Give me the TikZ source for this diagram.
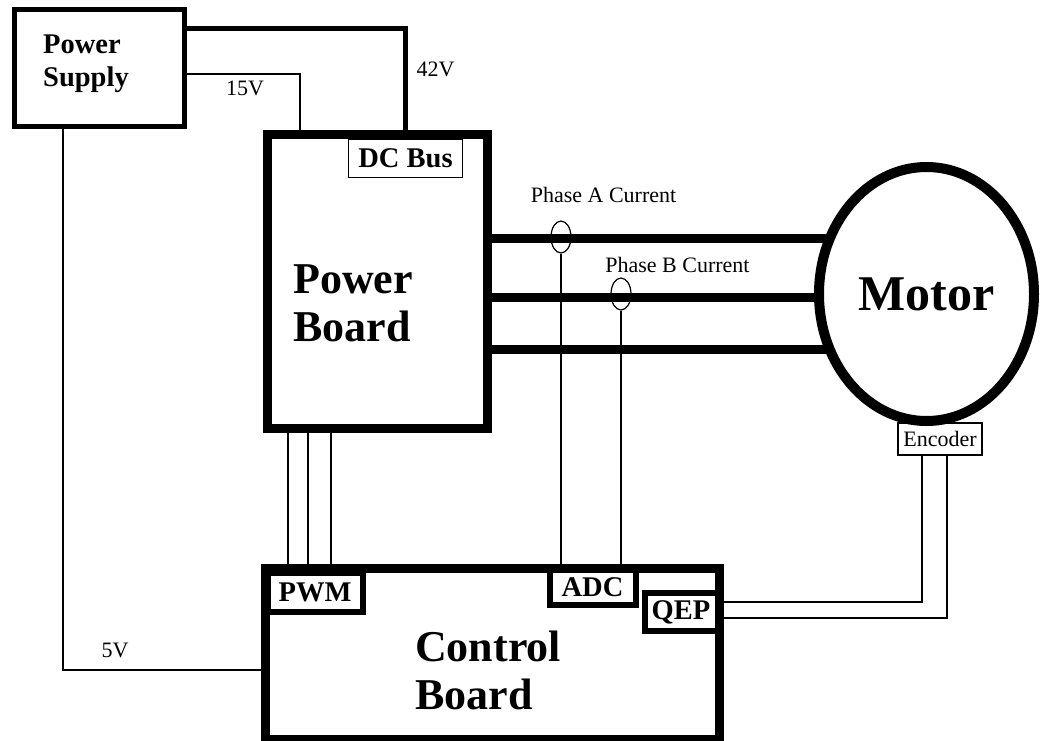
\documentclass[tikz,border=0pt]{standalone}
\usepackage{fontspec}
\setmainfont{Liberation Serif}
\usetikzlibrary{positioning,shapes.geometric,backgrounds}

\begin{document}
\begin{tikzpicture}[x=1pt,y=-1pt,every node/.style={font=\fontsize{22}{26}\selectfont},
  wire/.style={line width=1.2pt},
  port/.style={draw,line width=6pt,inner sep=0pt,font=\bfseries\fontsize{28.5}{33}\selectfont},
  big/.style={font=\bfseries\fontsize{44}{48}\selectfont,align=left,anchor=west,inner sep=0pt}]
\path[use as bounding box] (0,0) rectangle (1045,740);
% boxes
\node[draw,line width=5pt,minimum width=170pt,minimum height=117pt] (ps) at (99.5,68) {};
\node[draw,line width=9pt,minimum width=220pt,minimum height=294pt] (pb) at (377,281) {};
\node[draw,line width=9pt,minimum width=454pt,minimum height=171pt] (cb) at (492.5,653.5) {};
\node[draw,ellipse,line width=10pt,minimum width=215pt,minimum height=254pt,inner sep=0pt,fill=white,
  font=\bfseries\fontsize{50}{56}\selectfont] (m) at (926.5,294) {Motor};
\node[port,line width=1.2pt,minimum width=114pt,minimum height=38pt] (dc) at (405.5,158.5) {DC Bus};
\node[port,minimum width=95pt,minimum height=39pt] (pwm) at (315,592) {PWM};
\node[port,minimum width=86pt,minimum height=36pt] (adc) at (592.5,587) {ADC};
\node[port,minimum width=73pt,minimum height=38pt] (qep) at (681,612) {QEP};
\node[draw,line width=1.2pt,minimum width=84pt,minimum height=32pt,inner sep=0pt] (enc) at (940,439) {Encoder};
\node[big,font=\bfseries\fontsize{28.5}{33}\selectfont] (pst) at (43,64) {Power\\Supply};
\node[big] (pbt) at (293,303) {Power\\Board};
\node[big] (cbt) at (415,670.5) {Control\\Board};
% supply wires
\draw[line width=5pt] ([yshift=-21pt]ps.north east) -| (dc.north);
\draw[wire] ([yshift=-67pt]ps.north east) -| ([xshift=-77pt]pb.north);
\draw[wire] ([xshift=-36.5pt]ps.south) |- ([yshift=-16.5pt]cb.west);
\node (v42) at (435.5,69) {42V};
\node (v15) at (245,88) {15V};
\node (v5) at (115,650) {5V};
% phases to motor
\begin{scope}[on background layer]
\fill[white] (0,0) rectangle (1045,740);
\foreach \dy in {43,-16,-68}
  \draw[line width=9pt] ([yshift=\dy pt]pb.east) -- ([yshift=\dy pt]pb.east -| m.center);
\end{scope}
\node[draw,ellipse,line width=1.2pt,minimum width=20pt,minimum height=32pt,inner sep=0pt] (ia) at (561,237) {};
\node[draw,ellipse,line width=1.2pt,minimum width=20pt,minimum height=32pt,inner sep=0pt] (ib) at (621,294) {};
\node (lia) at (603.5,195) {Phase A Current};
\node (lib) at (677.5,265) {Phase B Current};
\draw[wire] (ia.south) -- (ia.south |- adc.north);
\draw[wire] (ib.south) -- (ib.south |- adc.north);
% gate signals and encoder
\foreach \dx in {-89,-69,-46}
  \draw[wire] ([xshift=\dx pt]pb.south) -- ([xshift=\dx pt]pb.south |- cb.north);
\draw[wire] ([xshift=-18pt]enc.south) |- ([yshift=10pt]qep.east);
\draw[wire] ([xshift=7pt]enc.south) |- ([yshift=-6pt]qep.east);
\end{tikzpicture}
\end{document}
